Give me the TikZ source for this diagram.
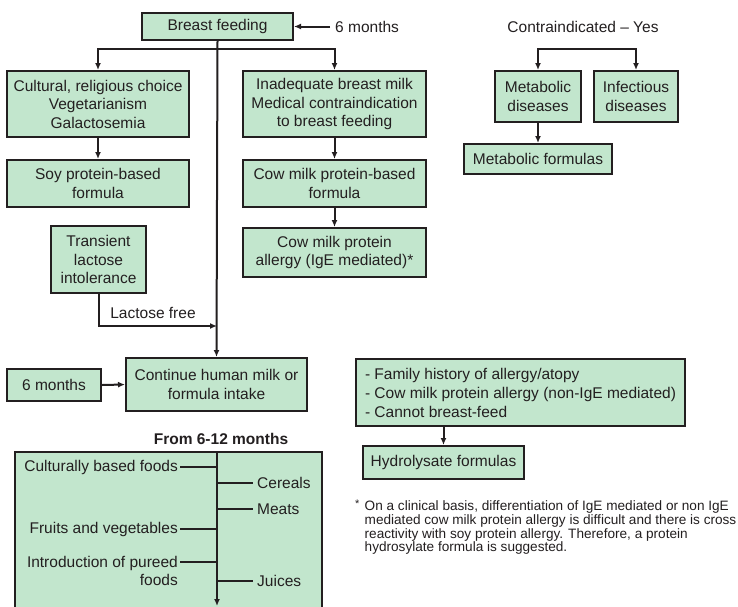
\documentclass[tikz,border=0pt]{standalone}
\usepackage{fontspec}
\setmainfont{Liberation Sans}
\usetikzlibrary{arrows.meta}
\definecolor{verdecaja}{RGB}{194,230,205}
\definecolor{tinta}{RGB}{35,31,32}
\newcommand{\textosize}{\fontsize{15.5}{18.5}\selectfont}
\newcommand{\notasize}{\fontsize{13.6}{13.8}\selectfont}
\tikzset{>={Latex[length=7pt,width=6pt]}}
\tikzset{caja/.style={draw=tinta, fill=verdecaja, line width=2pt, inner sep=0pt, align=center, text=tinta, font=\textosize},
	texto/.style={inner sep=0pt, text=tinta, font=\textosize},
	linea/.style={draw=tinta, line width=2pt}}

\begin{document}
\begin{tikzpicture}[x=1pt,y=-1pt]
		\useasboundingbox (0,0) rectangle (738,606);
		\fill[white] (0,0) rectangle (738,606);
		% left column
		\node[caja, minimum width=151, minimum height=27] (bf) at (217.5,26.5) {Breast feeding};
		\node[texto, anchor=west] (sixtop) at (335,26.5) {6 months};
		\node[caja, minimum width=182, minimum height=66] (cultural) at (98,104) {Cultural, religious choice\\Vegetarianism\\Galactosemia};
		\node[caja, minimum width=183, minimum height=66] (inadequate) at (334.5,104) {Inadequate breast milk\\Medical contraindication\\to breast feeding};
		\node[caja, minimum width=182, minimum height=47] (soy) at (98,183.5) {Soy protein-based\\formula};
		\node[caja, minimum width=183, minimum height=47] (cowformula) at (334.5,183.5) {Cow milk protein-based\\formula};
		\node[caja, minimum width=183, minimum height=49] (cowallergy) at (334.5,252.5) {Cow milk protein\\allergy (IgE mediated)*};
		\node[caja, minimum width=95, minimum height=67] (transient) at (98.5,259.5) {Transient\\lactose\\intolerance};
		\node[caja, minimum width=181, minimum height=53] (continue) at (216.5,384.5) {Continue human milk or\\formula intake};
		\node[caja, minimum width=94, minimum height=32] (sixm) at (54,385) {6 months};
		\coordinate (split) at (217,49);
		\coordinate (lfjoin) at (217,326);

		\draw[linea,->] ([xshift=-5pt]sixtop.west) -- (bf.east);
		\draw[linea,->] (bf.south) -- (continue.north);
		\draw[linea,->] (split) -| (cultural.north);
		\draw[linea,->] (split) -| (inadequate.north);
		\draw[linea,->] (cultural) -- (soy);
		\draw[linea,->] (inadequate) -- (cowformula);
		\draw[linea,->] (cowformula) -- (cowallergy);
		\draw[linea,->] (transient.south) |- (lfjoin) node[texto, above=6pt, pos=0.73] {Lactose free};
		\draw[linea,->] (sixm.east) -- (continue.west);

		% right column
		\node[texto] (contra) at (583,26.5) {Contraindicated -- Yes};
		\node[caja, minimum width=86, minimum height=51] (metabolic) at (538,96.5) {Metabolic\\diseases};
		\node[caja, minimum width=84, minimum height=51] (infectious) at (636,96.5) {Infectious\\diseases};
		\node[caja, minimum width=148, minimum height=30] (metformulas) at (538,159) {Metabolic formulas};
		\coordinate (csplit) at (587,49);
		\draw[linea,<->] (metabolic.north) |- (csplit) -| (infectious.north);
		\draw[linea,->] (metabolic) -- (metformulas);

		\node[caja, minimum width=329, minimum height=67, align=left, font=\fontsize{15.5}{19}\selectfont] (risk) at (520.5,392.5) {- Family history of allergy/atopy\\- Cow milk protein allergy (non-IgE mediated)\\- Cannot breast-feed};
		\node[caja, minimum width=161, minimum height=33] (hydro) at (443.5,462.5) {Hydrolysate formulas};
		\draw[linea,->] (hydro.north |- risk.south) -- (hydro.north);

		\node[inner sep=0pt, text=tinta, font=\fontsize{11}{11}\selectfont, anchor=north west] (star) at (355,500) {*};
		\node[inner sep=0pt, text=tinta, font=\notasize, align=left, anchor=north west] (nota) at (364.5,500.5) {On a clinical basis, differentiation of IgE mediated or non IgE\\mediated cow milk protein allergy is difficult and there is cross\\reactivity with soy protein allergy. Therefore, a protein\\hydrosylate formula is suggested.};

		% 6-12 months
		\node[texto, font=\textosize\bfseries] (from) at (221,439) {From 6-12 months};
		\draw[linea, fill=verdecaja] (15,614) -- (15,452) -- (322,452) -- (322,614);
		\coordinate (tltop) at (217,452);
		\coordinate (tlend) at (217,606);
		\draw[linea,->] (tltop) -- (tlend);
		\node[texto, anchor=east] (cult) at (178,467) {Culturally based foods};
		\node[texto, anchor=east] (fruit) at (178,529) {Fruits and vegetables};
		\node[texto, anchor=east, align=right] (puree) at (178,571) {Introduction of pureed\\foods};
		\node[texto, anchor=west] (cereal) at (257,483) {Cereals};
		\node[texto, anchor=west] (meat) at (257,509) {Meats};
		\node[texto, anchor=west] (juice) at (257,581) {Juices};
		\draw[linea] ([xshift=2pt]cult.east) -- (cult.east -| tltop);
		\draw[linea] ([xshift=2pt]fruit.east) -- (fruit.east -| tltop);
		\draw[linea] ([xshift=2pt,yshift=9pt]puree.east) -- ([yshift=9pt]puree.east -| tltop);
		\draw[linea] (cereal.west -| tltop) -- ([xshift=-4pt]cereal.west);
		\draw[linea] (meat.west -| tltop) -- ([xshift=-4pt]meat.west);
		\draw[linea] (juice.west -| tltop) -- ([xshift=-4pt]juice.west);
\end{tikzpicture}
\end{document}
